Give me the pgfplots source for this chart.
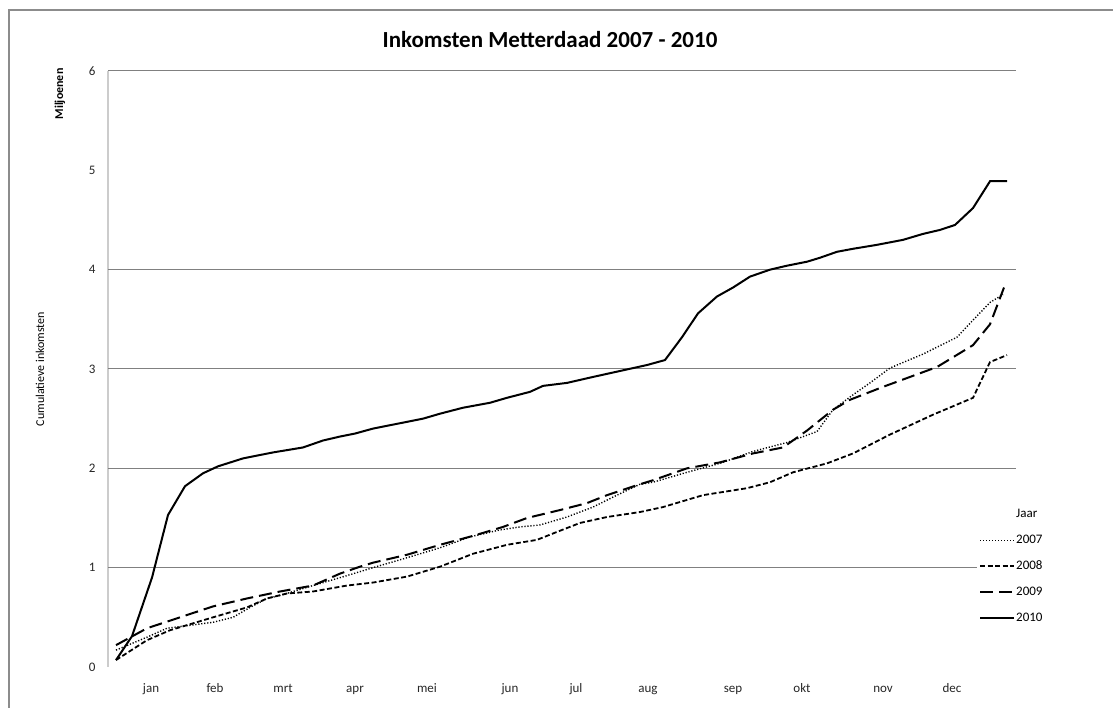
\documentclass[border=0pt]{standalone}
\usepackage{fontspec}
\setmainfont{Carlito}
\usepackage{pgfplots}
\pgfplotsset{compat=1.18}
\pgfplotstableread{
x y
116 0.17
147 0.30
167 0.39
213 0.45
233 0.50
250 0.60
267 0.69
280 0.72
313 0.82
347 0.92
373 1.00
407 1.10
440 1.20
470 1.31
500 1.38
520 1.41
540 1.43
567 1.51
593 1.61
617 1.73
640 1.84
653 1.86
687 1.96
720 2.05
753 2.17
787 2.26
817 2.37
833 2.59
853 2.74
870 2.86
890 3.01
923 3.15
957 3.32
970 3.46
990 3.67
1003 3.75
}\yrA
\pgfplotstableread{
x y
116 0.07
147 0.27
170 0.37
213 0.50
247 0.60
267 0.69
287 0.74
313 0.76
347 0.82
373 0.85
407 0.91
440 1.01
473 1.14
507 1.23
537 1.28
557 1.36
580 1.45
607 1.51
640 1.56
663 1.61
703 1.73
747 1.80
770 1.86
793 1.96
827 2.05
853 2.15
890 2.34
933 2.54
973 2.71
990 3.07
1007 3.14
}\yrB
\pgfplotstableread{
x y
116 0.22
147 0.39
180 0.50
213 0.61
247 0.69
280 0.76
313 0.82
340 0.94
360 1.01
373 1.05
407 1.13
440 1.23
473 1.32
503 1.41
527 1.50
560 1.58
587 1.65
607 1.73
640 1.84
653 1.88
687 2.00
720 2.06
753 2.15
783 2.21
807 2.38
833 2.59
850 2.69
883 2.82
910 2.92
937 3.02
973 3.24
990 3.45
1004 3.82
}\yrC
\pgfplotstableread{
x y
116 0.07
132 0.31
152 0.90
168 1.53
185 1.82
203 1.95
218 2.02
243 2.10
273 2.16
303 2.21
323 2.28
340 2.32
355 2.35
373 2.40
393 2.44
423 2.50
440 2.55
463 2.61
490 2.66
507 2.71
530 2.77
543 2.83
567 2.86
593 2.92
620 2.98
647 3.04
665 3.09
682 3.32
698 3.56
717 3.73
733 3.82
750 3.93
770 4.00
787 4.04
807 4.08
820 4.12
837 4.18
853 4.21
877 4.25
903 4.30
923 4.36
940 4.40
955 4.45
973 4.62
990 4.89
1007 4.89
}\yrD
\begin{document}
\begin{tikzpicture}[x=1pt,y=1pt]
\path[use as bounding box] (0,0) rectangle (1113,708);
\draw[black!45, line width=2pt] (9,0) -- (9,698) -- (1113,698);
\node[font=\fontsize{23}{27}\selectfont\bfseries] at (550,668) {Inkomsten Metterdaad 2007 - 2010};
\node[rotate=90, font=\fontsize{12}{14}\selectfont\bfseries] at (60,614) {Miljoenen};
\node[rotate=90, font=\fontsize{12}{14}\selectfont] at (40,339) {Cumulatieve inkomsten};
\begin{axis}[
  at={(108pt,41pt)}, anchor=south west,
  scale only axis, width=908pt, height=596pt,
  xmin=108, xmax=1016, ymin=0, ymax=6,
  axis x line*=bottom, axis y line*=left,
  x axis line style={draw=none},
  y axis line style={draw=black!20, line width=1.5pt},
  xtick={151,215,283,355,427,510,576,648,733,802,883,952},
  xticklabels={jan,feb,mrt,apr,mei,jun,jul,aug,sep,okt,nov,dec},
  ytick={0,1,2,3,4,5,6},
  major tick length=0pt,
  extra y ticks={1,2,3,4,6}, extra y tick labels={},
  extra y tick style={grid=major, major grid style={draw=black!50, line width=1pt}},
  /pgf/number format/assume math mode=true,
  tick label style={font=\fontsize{13}{15}\selectfont, text=black!85},
  xticklabel style={yshift=-13pt, text height=9pt, text depth=3pt},
  yticklabel style={xshift=-9pt},
  legend image code/.code={\draw[#1] (0pt,0pt) -- (34pt,0pt);},
  legend cell align=left,
  legend style={at={(axis cs:977,1.63)}, anchor=north west, draw=none, fill=white,
    font=\fontsize{13}{15}\selectfont, inner sep=2pt, row sep=12pt,
    nodes={inner sep=1pt, text height=9pt, text depth=3pt}},
]
\addlegendimage{empty legend}
\addlegendentry{Jaar}
\addplot[black, line width=1.4pt, dash pattern=on 1.2pt off 1.8pt] table {\yrA};
\addlegendentry{2007}
\addplot[black, line width=1.8pt, dash pattern=on 5pt off 2.5pt] table {\yrB};
\addlegendentry{2008}
\addplot[black, line width=2pt, dash pattern=on 13pt off 6pt] table {\yrC};
\addlegendentry{2009}
\addplot[black, line width=2pt] table {\yrD};
\addlegendentry{2010}
\end{axis}
\end{tikzpicture}
\end{document}
